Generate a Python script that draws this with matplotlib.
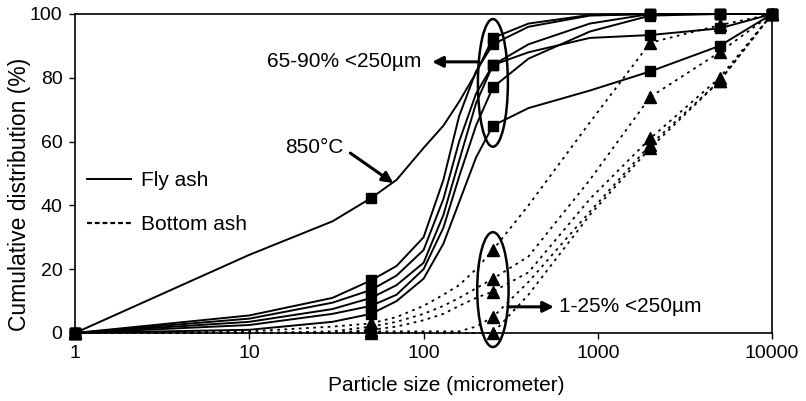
import matplotlib
matplotlib.use("Agg")
import matplotlib.pyplot as plt
from matplotlib.lines import Line2D
from matplotlib.patches import Ellipse
from matplotlib.ticker import NullLocator

plt.rcParams['font.family'] = ['Liberation Sans', 'DejaVu Sans']

size_um = [1, 10, 30, 50, 70, 100, 130, 160, 200, 250, 400, 900, 2000, 5000, 10000]
# sizes that carry a marker
marker_sizes = [1, 50, 250, 2000, 5000, 10000]

# fly ash (solid, squares)
fly_850 = [0, 24.5, 35, 42.3, 48, 58, 65, 72.5, 81.5, 92.5, 97, 99.7, 100, 100, 100]
fly_a = [0, 5.5, 11, 16.5, 21, 30, 48, 68, 82, 90.5, 96, 99.5, 100, 100, 100]
fly_b = [0, 4.5, 9.5, 13.5, 18, 26, 42, 60, 75, 84, 90.5, 97, 100, 100, 100]
fly_c = [0, 3.5, 7.5, 11, 15, 22, 37, 54, 72, 84, 88, 92.5, 93.4, 95.5, 100]
fly_d = [0, 2.5, 6, 8.5, 12, 20, 33, 49, 65, 77, 86, 94.5, 99.5, 100, 100]
fly_e = [0, 1, 3.5, 6, 10, 17, 28, 41, 55, 65, 70.5, 76, 82, 90, 100]

# bottom ash (dotted, triangles)
bot_a = [0, 0.5, 2, 3, 5, 8.5, 12, 15, 20, 26, 40, 66, 91, 96.5, 100]
bot_b = [0, 0, 0.5, 2, 3.5, 6, 8.5, 11, 14, 17, 24, 48, 74, 88, 100]
bot_c = [0, 0, 0, 1, 2, 4, 6, 8.5, 11, 13, 19, 42, 61, 80, 100]
bot_d = [0, 0, 0, 0.5, 0.5, 0.5, 0.5, 0.5, 2, 5, 16, 38, 59, 79, 100]
bot_e = [0, 0, 0, 0, 0, 0, 0, 0, 0, 0, 12, 37, 58, 79, 100]

fly_series = [fly_850, fly_a, fly_b, fly_c, fly_d, fly_e]
bottom_series = [bot_a, bot_b, bot_c, bot_d, bot_e]

mark_idx = [size_um.index(s) for s in marker_sizes]

fig = plt.figure(figsize=(8.06, 4.01), dpi=100)
ax = fig.add_axes([0.0931, 0.1696, 0.8648, 0.7955])

for vals in bottom_series:
    ax.plot(size_um, vals, color='black', lw=1.3, linestyle=(0, (1.5, 2.5)),
            marker='^', markersize=8, markevery=mark_idx, clip_on=False, zorder=2)
for vals in fly_series:
    ax.plot(size_um, vals, color='black', lw=1.4, marker='s', markersize=7,
            markevery=mark_idx, clip_on=False, zorder=3)

ax.set_xscale('log')
ax.set_xlim(1, 10000)
ax.set_ylim(0, 100)
ax.set_xticks([1, 10, 100, 1000, 10000])
ax.set_xticklabels(['1', '10', '100', '1000', '10000'])
ax.xaxis.set_minor_locator(NullLocator())
ax.set_yticks([0, 20, 40, 60, 80, 100])
ax.tick_params(direction='out', length=4, width=1, labelsize=14, pad=5)
for s in ax.spines.values():
    s.set_linewidth(1.2)

ax.set_xlabel('Particle size (micrometer)', fontsize=15)
ax.set_ylabel('Cumulative distribution (%)', fontsize=16.5)
ax.xaxis.set_label_coords(0.532, -0.135)
ax.yaxis.set_label_coords(-0.063, 0.433)


def to_axes(x, y):
    return ax.transAxes.inverted().transform(ax.transData.transform((x, y)))


# ellipses round the 250 um markers
for cy, h, w in [(78.4, 0.40, 0.043), (13.6, 0.36, 0.045)]:
    ax.add_patch(Ellipse(to_axes(250, cy), w, h, transform=ax.transAxes,
                         fill=False, lw=1.8, color='black', clip_on=False, zorder=4))

arrow = dict(arrowstyle='-|>', lw=2.2, color='black', mutation_scale=16,
             shrinkA=0, shrinkB=0)
ax.text(97, 85, '65-90% <250µm', fontsize=15, ha='right', va='center')
ax.annotate('', xy=(112, 85), xytext=(203, 85), arrowprops=arrow)

ax.text(595, 8.2, '1-25% <250µm', fontsize=15, ha='left', va='center')
ax.annotate('', xy=(560, 8.2), xytext=(305, 8.2), arrowprops=arrow)

ax.text(34.5, 58, '850°C', fontsize=15, ha='right', va='center')
ax.annotate('', xy=(67, 47), xytext=(38, 56.4), arrowprops=arrow)

handles = [Line2D([], [], color='black', lw=1.4),
           Line2D([], [], color='black', lw=1.6, linestyle=(0, (2.2, 1.3)))]
ax.legend(handles, ['Fly ash', 'Bottom ash'], loc='upper left',
          bbox_to_anchor=(0.017, 0.508), frameon=False, fontsize=15,
          handlelength=2.1, handletextpad=0.5, labelspacing=1.2,
          borderaxespad=0, borderpad=0)

fig.savefig('out.png', dpi=100)
